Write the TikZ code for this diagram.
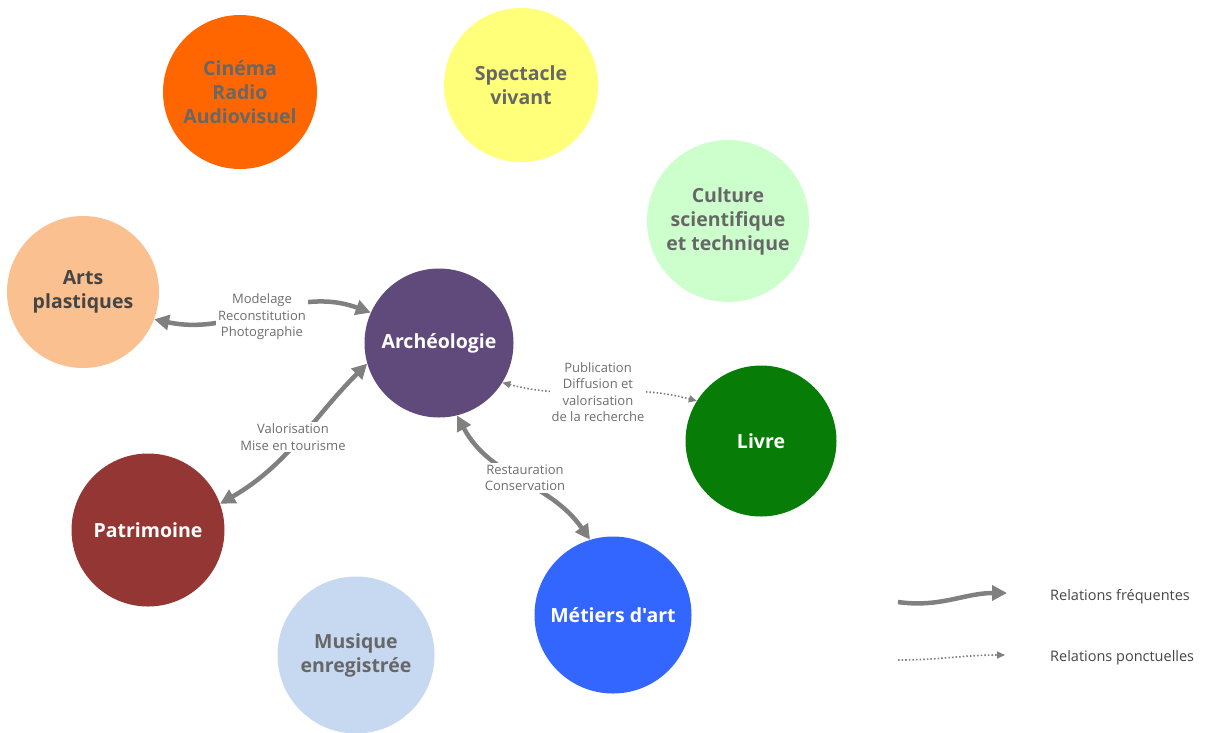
\documentclass[tikz,border=0pt]{standalone}
\usepackage{fontspec}
\setmainfont{Open Sans}[Ligatures=TeXOff]
\usetikzlibrary{arrows.meta}
\definecolor{cinema}{HTML}{FF6600}
\definecolor{spect}{HTML}{FFFF7A}
\definecolor{cult}{HTML}{CCFFCC}
\definecolor{arts}{HTML}{FAC090}
\definecolor{archeo}{HTML}{5F4A7B}
\definecolor{livre}{HTML}{077D07}
\definecolor{patr}{HTML}{943634}
\definecolor{metiers}{HTML}{3366FF}
\definecolor{musique}{HTML}{C6D9F1}
\definecolor{arrowgray}{HTML}{808080}
\definecolor{labelgray}{HTML}{6E6E6E}
\definecolor{textgray}{HTML}{676767}
\definecolor{darkgray}{HTML}{454545}
\begin{document}
\begin{tikzpicture}[x=1pt,y=-1pt,
  bubble/.style={circle, inner sep=0pt, align=center, font=\bfseries\fontsize{19.5}{24}\selectfont},
  freq/.style={draw=arrowgray, line width=4.5pt, {Triangle[length=15pt,width=15pt]}-{Triangle[length=15pt,width=15pt]}},
  ponct/.style={draw=arrowgray, line width=1.6pt, dotted, {Triangle[length=8pt,width=7pt]}-{Triangle[length=8pt,width=7pt]}},
  lbl/.style={fill=white, align=center, text=labelgray, font=\fontsize{13}{16.5}\selectfont, inner sep=2pt},
  legtext/.style={anchor=west, text=darkgray, font=\fontsize{14.5}{17}\selectfont, inner sep=0pt},
]
\useasboundingbox (0,0) rectangle (1212,732);

% circles
\node[bubble, fill=cinema, minimum size=154pt, text=textgray] (cine) at (240,92) {Cinéma\\Radio\\Audiovisuel};
\node[bubble, fill=spect, minimum size=154pt, text=textgray] (spec) at (521,85) {Spectacle\\vivant};
\node[bubble, fill=cult, minimum size=162pt, text=textgray] (cult) at (728,221) {Culture\\scientifique\\et technique};
\node[bubble, fill=arts, minimum size=152pt, text=darkgray] (arts) at (83,292) {Arts\\plastiques};
\node[bubble, fill=archeo, minimum size=149pt, text=white] (arch) at (439,343) {Archéologie};
\node[bubble, fill=livre, minimum size=151pt, text=white] (livre) at (761,441) {Livre};
\node[bubble, fill=patr, minimum size=153pt, text=white] (patr) at (148,530) {Patrimoine};
\node[bubble, fill=metiers, minimum size=157pt, text=white] (met) at (613,615) {Métiers d'art};
\node[bubble, fill=musique, minimum size=157pt, text=textgray] (mus) at (356,655) {Musique\\enregistrée};

% connectors
\draw[freq] (arts.-21) to[out=-12, in=160] (arch.156);
\draw[freq] (patr.20) to[out=30, in=225] (arch.196);
\draw[freq] (arch.-76) to[out=-62, in=125] (met.107);
\draw[ponct] (arch.-32) to[out=-15, in=165] (livre.148);

% labels
\node[lbl] (l1) at (262,317) {Modelage\\Reconstitution\\Photographie};
\node[lbl] (l2) at (293,437) {Valorisation\\Mise en tourisme};
\node[lbl] (l3) at (525,478) {Restauration\\Conservation};
\node[lbl] (l4) at (598,392) {Publication\\Diffusion et\\valorisation\\de la recherche};

% legend
\coordinate (f1) at (898,602);
\coordinate (f2) at (1007,593);
\coordinate (p1) at (898,660);
\coordinate (p2) at (1005,655);
\draw[draw=arrowgray, line width=4.5pt, -{Triangle[length=15pt,width=15pt]}] (f1) to[out=-8, in=180] (f2);
\draw[draw=arrowgray, line width=1.6pt, dotted, -{Triangle[length=8pt,width=7pt]}] (p1) to[out=0, in=180] (p2);
\node[legtext] (t1) at (1050,597) {Relations fréquentes};
\node[legtext] (t2) at (1050,658) {Relations ponctuelles};
\end{tikzpicture}
\end{document}
